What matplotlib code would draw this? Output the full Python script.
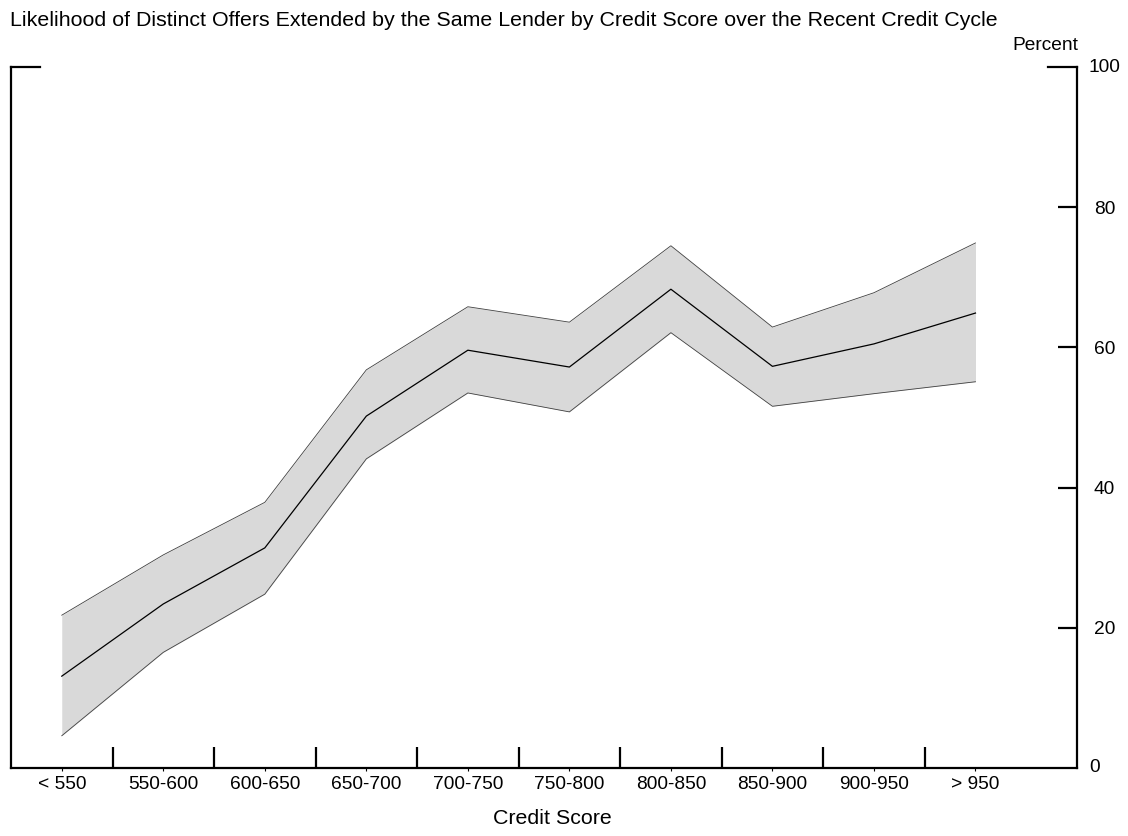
import matplotlib.pyplot as plt
import numpy as np

plt.rcParams['font.family'] = ['Liberation Sans', 'DejaVu Sans']

# ── data ─────────────────────────────────────────────────────────────────────
categories = ['< 550', '550-600', '600-650', '650-700', '700-750',
              '750-800', '800-850', '850-900', '900-950', '> 950']
estimate = [13.1, 23.4, 31.4, 50.2, 59.6, 57.2, 68.3, 57.3, 60.5, 64.9]
upper    = [21.8, 30.4, 37.9, 56.8, 65.8, 63.6, 74.5, 62.9, 67.8, 74.9]
lower    = [4.6, 16.5, 24.8, 44.1, 53.5, 50.8, 62.1, 51.6, 53.4, 55.1]
y_ticks  = [0, 20, 40, 60, 80, 100]

TICK_FS  = 13.8
LABEL_FS = 15.4

x = np.arange(len(categories))

fig = plt.figure(figsize=(11.28, 8.36), dpi=100)
ax = fig.add_axes([11 / 1128, 1 - 768 / 836, (1077 - 11) / 1128, (768 - 67) / 836])

ax.fill_between(x, lower, upper, color='#d9d9d9', lw=0)
ax.plot(x, upper, color='#404040', lw=0.6)
ax.plot(x, lower, color='#404040', lw=0.6)
ax.plot(x, estimate, color='black', lw=0.9)

ax.set_xlim(-0.5, len(categories))
ax.set_ylim(0, 100)

for s in ['left', 'right', 'bottom']:
    ax.spines[s].set_linewidth(1.6)
ax.spines['top'].set_visible(False)
# short caps at the top corners
ax.plot([0, 29 / 1066], [1, 1], transform=ax.transAxes, color='black', lw=1.6, clip_on=False)
ax.plot([1 - 29 / 1066, 1], [1, 1], transform=ax.transAxes, color='black', lw=1.6, clip_on=False)

# x: labels at centres, long ticks at the boundaries
ax.set_xticks(x[:-1] + 0.5)
ax.set_xticklabels([])
ax.tick_params(axis='x', which='major', direction='in', length=15, width=1.6, bottom=True)
ax.set_xticks(x, minor=True)
ax.set_xticklabels(categories, minor=True, fontsize=TICK_FS)
ax.tick_params(axis='x', which='minor', direction='out', length=2, width=0.8, pad=4)

# y: right side only
ax.yaxis.tick_right()
ax.set_yticks([t for t in y_ticks if 0 < t < 100])
ax.tick_params(axis='y', direction='in', length=14, width=1.6, labelsize=TICK_FS, pad=12,
               right=True, left=False)
for t in [0, 100]:
    ax.text(1 + 12 / 1066, t, str(t), transform=ax.get_yaxis_transform(),
            ha='left', va='center', fontsize=TICK_FS)

fig.text(10 / 1128, 1 - 21 / 836,
         'Likelihood of Distinct Offers Extended by the Same Lender by Credit Score over the Recent Credit Cycle',
         ha='left', va='center', fontsize=LABEL_FS)
fig.text(1045 / 1128, 1 - 46 / 836, 'Percent', ha='center', va='center', fontsize=TICK_FS)
fig.text(552 / 1128, 1 - 818 / 836, 'Credit Score', ha='center', va='center', fontsize=LABEL_FS)

fig.savefig('out.png', dpi=100)
